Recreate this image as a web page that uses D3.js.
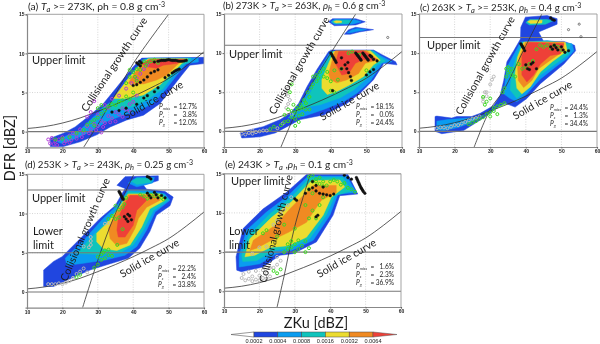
<!DOCTYPE html>
<html><head><meta charset="utf-8">
<script src="https://cdn.jsdelivr.net/npm/d3@7"></script>
<style>html,body{margin:0;padding:0;background:#fff}svg{display:block;filter:blur(.35px)}text{font-family:Lato,"Open Sans",sans-serif;fill:#1c1c1c}</style>
</head><body><svg id="c" width="600" height="344"></svg>
<script>
const levelLabels=["0.0002","0.0004","0.0008","0.0016","0.0032","0.0064"];
const levelColors=["#2046e0","#0a9cf0","#0fc4bc","#ecdc30","#f08a22","#ee4038"];
const xTicks=[10,20,30,40,50,60];
const yTicks=[0,5,10,15];
const iceCurve=[[10,.4],[15,.65],[20,1.1],[25,1.75],[30,2.6],[35,3.5],[40,4.5],[45,5.6],[50,6.8],[55,8.4],[60,10.2]];

// contour polygons [ZKu, DFR] per panel
const contoursA=[
[[16.6,-1.9],[16.6,-.85],[20.3,-.2],[23.6,.6],[27.8,2.1],[31.6,3.6],[35.4,5.7],[40,8.3],[42.4,9.4],[60,9.5],[60,8.7],[56,8.5],[53.7,7.2],[50.4,5.3],[47.6,3.6],[42.9,2.1],[38.2,1.5],[33.5,.6],[29.7,-.4],[25,-1.3],[20.3,-1.9]],
[[18.5,-1.3],[20.8,-.6],[25,.2],[28.8,1.9],[33.5,3.6],[37.7,6.2],[41.9,8.7],[43.3,9.3],[58.4,9.4],[58.4,8.9],[55,8.7],[52.3,7.2],[49,5.3],[45.6,3.6],[41.9,2.8],[37.2,2.1],[32.5,1.3],[28.8,.2],[24,-.85],[19.9,-1.5]],
[[30.6,2.8],[34.4,4],[38.2,6.6],[42.4,8.9],[44.3,9.4],[56.4,9.4],[56,8.9],[53.7,8.5],[51.3,7.2],[48.5,5.5],[43.8,4],[40,3.2],[35.4,2.8]],
[[34.4,4.25],[38.6,6.8],[42.4,8.7],[44.3,9.3],[55.5,9.3],[53.7,8.7],[50.8,7.4],[47.6,6],[42.9,4.7],[38.2,4.25]],
[[38.6,6.2],[40,7.2],[42.4,8.7],[44.7,9.3],[54.6,9.3],[52.3,8.5],[49.4,7.2],[46.6,6.6],[42.9,6.1]],
[[42.4,8.7],[44.7,9.2],[54.1,9.2],[52.3,8.7],[48.5,8.5],[46.6,8.1],[43.8,8.3]]];
const contoursB=[
[[15,-.85],[14.5,-.2],[16.4,.1],[21,.6],[25.8,1.5],[28.6,2.3],[31,3.6],[33.3,5.7],[36.1,7.9],[39.4,10.2],[40.3,10.4],[52,10.4],[54.4,9.8],[58.2,8.9],[58.6,8.5],[54.9,8.7],[52,6.6],[48.3,4.9],[44.6,3.6],[38,2.1],[31.4,1.5],[27.7,.6],[24.4,-.2],[20.1,-.7]],
[[28,1.7],[31,3.2],[33.8,5.3],[36.6,7.7],[39.9,10.2],[52,10.3],[53.9,9.7],[57.2,8.9],[54.4,8.7],[51.1,6.4],[47.4,4.9],[43.6,3.8],[38,2.8],[32.3,1.9]],
[[31.4,3],[34.2,4.9],[37,7.4],[40.3,10.2],[51.6,10.3],[53.9,9.5],[55.4,9],[53,8.5],[50.2,6.8],[46.4,5.3],[42.7,4.3],[37,3.4]],
[[37.5,5.5],[37.5,6.6],[39.4,8.7],[40.8,10.2],[51.1,10.3],[53.9,9.1],[52,8.5],[49.2,7],[45.5,6],[41.7,5.1],[39,4.7]],
[[39.9,6.6],[39.4,7.4],[40.8,9.8],[41.3,10.3],[50.2,10.3],[53,9.1],[49.7,8.7],[47.8,7.4],[44.6,6.6],[41.7,6.2]],
[[41.3,8.7],[42.2,10.2],[49.2,10.3],[53,9.2],[51,9.1],[49.2,9.2],[46.9,8.7],[45,7.4],[43.1,7.2]]];
const blobsB=[
[0,[[39.4,14],[40.5,14.4],[47,14.4],[49.7,14],[47,13.6],[41,13.5]]],
[1,[[40,14],[41,14.3],[46.5,14.3],[48.5,14],[46,13.7],[41,13.7]]],
[2,[[40.3,14],[41,14.2],[45,14.2],[46,14],[44.5,13.8],[41,13.8]]],
[3,[[40.8,14],[41.5,14.15],[43,14.1],[43,13.9],[41.5,13.85]]],
[0,[[43.8,12.4],[45,13],[47,13.3],[52,13],[48,12.7],[45.5,12.4]]],
[1,[[44.6,12.6],[46,13],[47.5,13.15],[50,13],[47.5,12.8],[45.5,12.6]]]];
const contoursC=[
[[14.5,1.9],[14.5,0],[16.4,-.3],[22.5,.1],[28.1,1.7],[32.3,3.1],[34.2,3.6],[37,3.1],[40.3,4.2],[44.1,6.1],[50.7,8.6],[54,10.3],[53.7,11],[50.7,11.5],[45,11.5],[43.6,12.7],[48.8,13.7],[48.8,14.4],[46,14.8],[39.9,14.6],[38.6,13.3],[38.5,11.8],[36.6,10.3],[34.7,8.9],[33.8,6.5],[32.8,4.6],[31,3.3],[27.2,2.3],[24.8,1.9],[20.6,1.9],[19.2,1.7],[15,1.95]],
[[34.7,8.2],[33.8,4.8],[35.6,4.2],[37.5,3.8],[39.9,4.6],[44.1,6.7],[48.8,8.4],[51.6,9.3],[53.5,10.3],[53,11.2],[46,11.6],[38.5,11.4],[37,10.1]],
[[36.1,7.8],[35.6,5.3],[37.5,4.2],[40.3,5.3],[44.1,7.2],[48.3,8.6],[52.1,9.9],[52.5,11.2],[46,11.5],[38.9,11.4],[37.5,9.7]],
[[37,7.4],[37.5,5.5],[38.9,4.8],[41.3,5.7],[44.1,7.6],[47.4,8.9],[51.6,10.3],[51.1,11.4],[39.4,11.4],[37.7,9.5]],
[[37.7,8.2],[37.9,6.5],[39.4,5.6],[41.7,6.5],[43.6,8],[46.9,9.1],[50.7,10.3],[50.7,11.4],[39.9,11.4],[38.2,9.5]],
[[38.9,8.2],[38.9,7.2],[40.3,6.3],[42.2,7.2],[44.1,8.6],[46.9,9.7],[49.7,9.9],[50.7,11.2],[40.8,11.4],[38.9,9.7]]];
const blobsC=[
[2,[[40,13.9],[41,14.3],[46,14.3],[47.5,14.1],[45.5,13.7],[41,13.6]]],
[3,[[40.5,14],[41.3,14.2],[44.6,14.2],[44.5,13.85],[41.3,13.8]]],
[1,[[15,1.3],[15,.2],[17,.1],[21,.5],[24,1],[27,1.8],[24,1.7],[21,1.6],[18,1.5]]]];
const contoursD=[
[[14.7,.7],[14.7,2.8],[17.5,3.9],[19.9,4.5],[25,6.8],[30.7,9.4],[34.9,11],[37.7,13.2],[35.4,13.6],[37.7,14.7],[47.1,14.8],[47.1,14.2],[42.9,13.6],[43.8,13.1],[49,12.8],[51.3,12.1],[50.4,11],[46.6,9.8],[44.7,7.7],[41.9,5.6],[38.6,4.3],[33.5,3.6],[27.8,2.8],[22.2,1.7],[17.5,.7]],
[[20.8,4.3],[26,6.6],[31.6,9.4],[35.4,11],[38.6,13],[43.8,13],[49,12.5],[50.4,11.7],[46.2,10.2],[43.8,7.9],[41,5.8],[37.7,4.7],[32.5,4.1],[25,3.6],[21.3,3.4]],
[[24.1,4.9],[27.8,6.8],[33,9.2],[35.8,10.8],[38.6,12.8],[48.5,12.5],[49.9,11.7],[45.7,10.4],[42.9,7.9],[40,6],[36.3,5],[29.7,4.8]],
[[29.7,7.5],[32.5,8.7],[35.8,10.6],[38.6,12.5],[47.6,12.5],[49,11.7],[44.7,10.6],[42.4,8.3],[39.1,6],[35.4,5.3],[31.6,5.5],[29.7,6.4]],
[[33,8.1],[35.4,10.2],[38.6,12.4],[46.6,12.4],[47.6,11.7],[43.8,10.8],[41.5,9.4],[40.5,8.1],[38.2,6.2],[35.4,5.9],[33.5,6.8]],
[[35.4,7.9],[35.8,9.4],[37.2,11],[39.1,12.3],[42.8,12.3],[43.8,11.7],[41,10.4],[40,8.5],[37.7,7],[35.8,7]]];
const blobsD=[
[2,[[39.5,14.1],[41,14.5],[45.5,14.5],[45,14],[41,13.7]]],
[1,[[38.6,13.9],[41,14.6],[46,14.6],[45.5,13.9],[41,13.4]]]];
const contoursE=[
[[13.6,2.7],[13.4,4.4],[15.4,8],[21,10.5],[27.6,12.6],[33.3,14.9],[45,14.9],[47.8,12.4],[42.7,12.2],[40.8,9.7],[36.1,6.3],[29.5,4.8],[25.8,4.6],[21,3.1],[14.9,2.5]],
[[14.3,3.1],[14.3,4.6],[16.4,7.8],[22,10.1],[28.1,12.2],[33.8,14.7],[44.6,14.7],[47.4,12.6],[42.2,12.4],[39.9,9.7],[35.2,6.5],[29.1,5.2],[24.8,4.8],[20.1,3.5]],
[[15.3,3.8],[15,4.6],[16.9,7.1],[23,9.9],[28.6,11.8],[34.2,14.5],[43.6,14.5],[46,12.8],[41.3,12.2],[38.9,9.7],[34.2,6.7],[28.6,5.5],[23.9,5.2],[19.2,3.9]],
[[15.9,4.4],[17.3,6.7],[23.4,9.4],[29,11.4],[34.7,14.1],[42.7,14.2],[44.1,13.3],[40.3,12],[38,9.7],[33.3,6.9],[28.1,5.8],[23,5.6],[18.7,4.6]],
[[17.3,5.2],[18.3,6.5],[24.4,8.4],[29,10.7],[35.2,13.5],[41.7,13.5],[41.7,12.6],[37.5,11.6],[35.2,10.1],[33.3,8.8],[28.1,7.5],[23.4,6.5],[19.2,5.5]]];

// observed points
const purpleA=[[16,-1],[16.5,-1.5],[17,-.8],[17.5,-1.6],[18,-1.2],[18.5,-1.7],[19,-1],[20,-.7],[20.5,-1.5],[21,-1.2],[22,-.5],[22.5,-1.1],[23,-.2],[24,-.5],[25,.3],[25.5,-.7],[26,-.2],[27,.7],[27.5,-.2],[28,.3],[29,1],[29.5,.2],[30,.7],[31,1.4],[31.5,.6],[32,1.1],[33,2],[33.5,1.2],[34,1.7],[35,2.5],[36,2.2],[37,3],[38,2.8],[39,3.5],[40,3.8],[29,3.9],[28,2.5],[32,3.4],[34,4.2],[36,4.6],[38,5.5],[39.5,6.2],[41,4.6],[41,6.8],[42,7.4],[43,8],[44,8.5],[27,1.9],[30,2.2],[33,3],[31,-.1],[35,1.3],[24,-.9],[22,-1.4],[37,1.9],[39,2.6]];
const greenA=[[18,-1],[20,-.9],[22,-.7],[24,-.2],[26,.2],[27,.9],[28,1.2],[29,1.5],[30,1.8],[31,2.3],[32,2.7],[33,3.2],[34,3.5],[35,3.4],[36,3.8],[37,4],[38,4.5],[39,4.2],[40,5],[38,6.2],[39,7],[40,7.6],[41,8],[42,8.6],[43,9],[44,8.8],[45,9],[46,9.2],[47,8.8],[41,6.5],[29,.8],[30,3],[31,3.4],[39,7.9],[40.5,7],[42,7.9],[43.5,8.4]];
const blackA=[[41,8.8],[41.5,8.6],[41.8,9],[42,8.4],[42.3,8.8],[46,8.9],[47,9],[47.5,9.05],[48,9.1],[48.5,9.1],[49,9.1],[49.5,9.15],[50,9.2],[50.5,9.15],[51,9.1],[51.5,9.1],[52,9.1],[52.5,9.05],[53,9],[53.5,9],[54,9],[54.5,9.05],[55,9.1],[45,7.5],[46,7.7],[47,7.9],[44,7],[43,6.6],[42,6.3],[41,6],[40,5.9],[49,6.9],[50,7.2],[51,7.5],[51.5,7.65],[52,7.8],[52.5,7.9],[53,8],[46,5.1],[47,5.6],[44,4.6],[43,4.3],[41,3.5],[38,3],[36,2.7],[34,2.5]];
const greenB=[[23,.3],[24,.6],[26,.8],[27,1.2],[27,2.1],[28,2.8],[28,1.3],[29,1.8],[29,2.6],[29.5,3.4],[30,.7],[30,1.6],[30,2.4],[30.5,3],[31,1.2],[31,2],[31,2.8],[31.5,3.4],[32,2.2],[32,3],[32.5,4],[33,2.8],[33,3.6],[33.5,5],[34,4.4],[34.5,5.6],[35,6],[35,7],[36,6.4],[36,7.2],[36.5,6.8],[37,7.6],[38,7],[38,8],[39,6.8],[39,7.6],[40,6.4],[40,5.2],[41,5],[41,7.8],[42,6.6],[43,8],[28.5,5],[29,6],[34,2.8],[45,10],[46,10.2],[48,9.8],[50,7.8]];
const grayB=[[15,-.3],[16,-.4],[17,-.2],[18,-.3],[19,-.1],[20,0],[21,.1],[22,.1],[18,.1],[25,.4],[26.5,1],[28,3.5],[28,4.5],[27.5,3],[27.5,5],[28,5.5],[28.5,4],[29,2.2]];
const blackB=[[40,10],[40.3,9.8],[40.5,9.6],[40.8,9.4],[41,9.2],[41.3,9],[41.5,8.8],[47,10],[47.3,9.85],[47.5,9.7],[47.8,9.55],[48,9.4],[48.3,9.25],[48.5,9.1],[49,10],[49.3,9.85],[49.5,9.7],[49.8,9.55],[50,9.4],[50.3,9.25],[50.5,9.1],[51,9.7],[51.3,9.6],[51.5,9.5],[52,9.2],[53,9],[43,8],[44,8.5],[44.5,8],[45,7.5],[45.5,7],[45.8,6.5],[44.8,8.8],[50,7.2],[51,7.6],[52,7.9],[40.5,5.2],[43,9.4]];
const openB=[[56,12]];
const greenC=[[24,.9],[25,1.1],[26,1.3],[27,1.6],[28,1.8],[29,2.2],[30,2.4],[30,1.9],[31,2.6],[31,3],[32,3.2],[32,2.2],[33,3.4],[34,3.6],[33.5,5],[34,5.5],[34.5,7],[35,7.5],[35,8.2],[35.5,7.7],[36,8],[34.5,8],[36,7.2],[37,7],[38,8.6],[39,8],[40,8.2],[41,8.6],[42,9],[43,10.5],[44,11],[45,10.8],[46,11],[47,10.6],[48,11],[49,10.8],[50,10.4],[30,4.2],[28,4.4],[29,3.8],[28.5,3.4]];
const grayC=[[15,.4],[16,.5],[17,.5],[18,.4],[19,.6],[20,.8],[21,.8],[22,1],[23,1.2],[24,1.4],[25,1.6],[26,1.7],[27,1.9],[28,3.8],[28,4.2],[29,4.5],[29,5],[30,6],[31,7],[30.5,6.6],[28.5,5]];
const blackC=[[38.6,11.2],[38.8,11.05],[39,10.9],[39.2,10.75],[39.4,10.6],[39.7,10.3],[40,8.5],[40.5,8],[41,7.9],[41.5,8.6],[42,8.8],[43,8],[47,10.8],[47.5,10.5],[48,11],[48.5,10.7],[49,10.4],[50,10.8],[50.5,10.4],[51,10.1],[52,10.3],[47,14.5],[47.5,14.3],[48,14.2]];
const openC=[[52,13],[55,13.7],[55.5,12.1]];
const greenD=[[24,1.9],[25,2.2],[29,3.1],[30,3.5],[30,4.5],[31,4.8],[31.5,5],[32,4.3],[32,5.3],[33,4.7],[33,5.4],[34,4.6],[31,4.1],[35.5,6],[37,8],[33,9.3],[34,9.7],[35,9.3],[36,9.5],[36,10.5],[37,10.8],[37.5,11.2],[38,12],[42,12.4],[43,12.2],[44,11.9],[45,12.4],[46,12.2],[47,12.2],[48,12],[48.5,11.8],[35,11]];
const grayD=[[16,1],[17,1],[18,1],[19,1.1],[20,1],[21,1.2],[22,1.4],[23,1.8],[24,2.3],[25,2.6],[26,3],[27,2.5],[28,6],[28,6.5],[27.5,5.7],[26,5.8],[28,7],[33,8.8],[32,8.7]];
const blackD=[[36,12.8],[36.2,12.65],[36.4,12.5],[36.6,12.3],[36.8,12.1],[37,11.95],[37.2,11.8],[37.5,9.6],[38,9.3],[38.5,9],[39,9.7],[39.5,9.2],[38.5,9.9],[44,12.6],[44.5,12.3],[45,12],[46,12.7],[46.5,12.4],[47,12],[48,12.3],[49,12],[44,14.7],[44.5,14.6],[45,14.4]];
const greenE=[[24,2.6],[25,2.3],[26,2.8],[27,5],[28,5.4],[28,6],[29,5.6],[29,6.4],[30,5],[30,6],[31,5.4],[31,6.5],[32,5.8],[33,5],[33,6.4],[34,5.5],[25,7],[22,7.8],[21,7.4],[27,8.5],[34,9.3],[36,9.3],[35,10.3],[37,11],[38,12],[33,11],[35,12.5],[34,13],[35,14],[36,14.3],[37,14.5],[38,14],[39,13.5],[40,14],[41,14.2],[42,14],[43,13.6],[44,13.8],[45,13.2],[46,13],[47,12.7],[30,8],[34,14.6],[35,14.8],[36,14],[37,13.7],[38,13.4]];
const grayE=[[15,1.7],[16,1.4],[17,1.6],[18,1.9],[19,1.5],[20,2],[21,1.7],[22,2.3],[23,1.9],[24,3],[25,3.4],[26,3.9],[17,2.5],[19,2.6],[21,2.7],[23,3],[25,4.4],[18,4.8],[20,5.6],[22,5.7],[26,10],[27,10.5],[25,9],[24,8.5],[28,11],[29,12],[15.5,2.2],[18,1.3],[20,1.4],[22,1.6]];
const blackE=[[30,11.8],[30.5,11.6],[33,12.5],[34,13],[35,13.2],[36,12.8],[37,12.5],[38,12.4],[39,12.3],[40,12.2],[41,12.4],[35,14],[36,13.5],[38,13.3],[36,9.5],[36.5,9.7],[44,14.8],[45,14.5],[46,14.3],[47.4,14.5],[47.6,14.3],[47.8,14.1],[48,13.9],[48.2,13.7],[48.4,13.5],[48.6,13.3],[48.8,13.15],[49,13],[49.2,12.85],[49.4,12.7],[49.8,12.5]];

const panels=[
{n:"a",x0:27,x1:204,t:14.3,b:147.3,upper:10,lower:null,coll:[[26,-2],[30,.9],[34,4],[40,8.7],[50,15]],cont:contoursA,blobs:[],pts:[[purpleA,"#b03cd8"],[greenA,"#3cd820"],[blackA,"#111"]],
 title:["(a) ","T","a"," >= 273K, ρh = 0.8 g cm","-3"],tx:28,ty:10,tf:10.3,uLab:[32,64],lLab:null,cLab:[115,65,-56.5],sLab:[154,101,-30],stats:["12.7%","3.8%","12.0%"],sub:"r",statX:159,statY:109},
{n:"b",x0:224,x1:402,t:14,b:147,upper:11,lower:null,coll:[[26,-2],[30,2.2],[33,4.8],[40,10],[47,15]],cont:contoursB,blobs:blobsB,pts:[[grayB,"#b8b8b8"],[greenB,"#3cd820"],[blackB,"#111"]],open:openB,
 title:["(b) 273K > ","T","a"," >= 263K, ","ρ","h"," = 0.6 g cm","-3"],tx:223,ty:9,tf:9.7,uLab:[229,58],lLab:null,cLab:[300,66,-60],sLab:[350,102,-30],stats:["18.1%","0.0%","24.4%"],sub:"s",statX:356,statY:108.5},
{n:"c",x0:419,x1:597,t:14,b:147,upper:12,lower:null,coll:[[25.5,-2],[30,2.8],[33.7,5.2],[39.3,10.3],[44.5,15]],cont:contoursC,blobs:blobsC,pts:[[grayC,"#b8b8b8"],[greenC,"#3cd820"],[blackC,"#111"]],open:openC,
 title:["(c) 263K > ","T","a"," >= 253K, ","ρ","h"," = 0.4 g cm","-3"],tx:420,ty:10.5,tf:9.7,uLab:[427,49],lLab:null,cLab:[486,66,-61],sLab:[543,101,-30],stats:["24.4%","1.3%","34.4%"],sub:"s",statX:550,statY:109.5},
{n:"d",x0:27,x1:204,t:174.3,b:307.7,upper:13,lower:5,coll:[[25.7,-2],[30.2,4.3],[34.4,9.4],[40.2,15]],cont:contoursD,blobs:blobsD,pts:[[grayD,"#b8b8b8"],[greenD,"#3cd820"],[blackD,"#111"]],
 title:["(d) 253K > ","T","a"," >= 243K, ","ρ","h"," = 0.25 g cm","-3"],tx:25,ty:168,tf:9.7,uLab:[32,202],lLab:[33,235],cLab:[86,230,-67],sLab:[150,259,-30],stats:["22.2%","2.4%","33.8%"],sub:"s",statX:158,statY:270.5},
{n:"e",x0:224,x1:401,t:173.7,b:307,upper:15,lower:5,coll:[[25,-2],[27,2],[30,8.3],[34.4,15]],cont:contoursE,blobs:[],pts:[[grayE,"#b8b8b8"],[greenE,"#3cd820"],[blackE,"#111"]],
 title:["(e) 243K > ","T","a"," ,","ρ","h"," = 0.1 g cm","-3"],tx:225,ty:168,tf:10.2,uLab:[231,185],lLab:[229,235],cLab:[277,229,-76],sLab:[347,259,-30],stats:["1.6%","2.3%","36.9%"],sub:"s",statX:356,statY:269}];

const svg=d3.select("#c");
panels.forEach(p=>{
  const x=d3.scaleLinear().domain([10,60]).range([p.x0,p.x1]);
  const y=d3.scaleLinear().domain([-2,15]).range([p.b,p.t]);
  const g=svg.append("g");
  const cid="clip-"+p.n;
  g.append("clipPath").attr("id",cid).append("rect").attr("x",p.x0).attr("y",p.t).attr("width",p.x1-p.x0).attr("height",p.b-p.t);
  const plot=g.append("g").attr("clip-path",`url(#${cid})`);
  xTicks.slice(1,5).forEach(v=>plot.append("line").attr("x1",x(v)).attr("x2",x(v)).attr("y1",p.t).attr("y2",p.b).attr("stroke","#bbb").attr("stroke-width",.6).attr("stroke-dasharray","1 1.5"));
  [5,10].forEach(v=>plot.append("line").attr("x1",p.x0).attr("x2",p.x1).attr("y1",y(v)).attr("y2",y(v)).attr("stroke","#bbb").attr("stroke-width",.6).attr("stroke-dasharray","1 1.5"));
  const area=d3.line().x(d=>x(d[0])).y(d=>y(d[1])).curve(d3.curveLinearClosed);
  const shape=(lvl,pts)=>plot.append("path").attr("d",area(pts)).attr("fill",levelColors[lvl]).attr("stroke",levelColors[lvl]).attr("stroke-width",.5).attr("stroke-linejoin","round");
  p.cont.forEach((c,i)=>shape(i,c));
  p.blobs.slice().sort((a,b)=>a[0]-b[0]).forEach(b=>shape(b[0],b[1]));
  [0,p.upper,p.lower].filter(v=>v!==null).forEach(v=>plot.append("line").attr("x1",p.x0).attr("x2",p.x1).attr("y1",y(v)).attr("y2",y(v)).attr("stroke","#777").attr("stroke-width",1.1));
  const ln=d3.line().x(d=>x(d[0])).y(d=>y(d[1]));
  plot.append("path").attr("d",ln.curve(d3.curveMonotoneX)(iceCurve)).attr("fill","none").attr("stroke","#333").attr("stroke-width",.8);
  plot.append("path").attr("d",ln.curve(d3.curveCatmullRom)(p.coll)).attr("fill","none").attr("stroke","#333").attr("stroke-width",.8);
  p.pts.forEach(([arr,col])=>{
    const black=col==="#111";
    plot.append("g").selectAll("circle").data(arr).join("circle")
      .attr("cx",d=>x(d[0])).attr("cy",d=>y(d[1])).attr("r",black?1.35:1.5)
      .attr("fill",black?col:"none").attr("stroke",col).attr("stroke-width",black?.4:1);
  });
  if(p.open) plot.append("g").selectAll("circle").data(p.open).join("circle").attr("cx",d=>x(d[0])).attr("cy",d=>y(d[1])).attr("r",1.1).attr("fill","none").attr("stroke","#333").attr("stroke-width",.6);
  const ax=g.append("g").attr("transform",`translate(0,${p.b})`).call(d3.axisBottom(x).tickValues(xTicks).tickSize(1.5).tickPadding(1));
  const ay=g.append("g").attr("transform",`translate(${p.x0},0)`).call(d3.axisLeft(y).tickValues(yTicks).tickSize(1.5).tickPadding(1));
  [ax,ay].forEach(a=>{a.selectAll("text").style("font-size","5px").style("font-weight","700").style("font-family","Liberation Sans");a.selectAll("line").attr("stroke","#666");a.select(".domain").attr("stroke","#888").attr("stroke-width",1.2);});
  g.append("path").attr("d",`M${p.x0},${p.t}H${p.x1}V${p.b}`).attr("fill","none").attr("stroke","#999").attr("stroke-width",.9);
  const tt=g.append("text").attr("x",p.tx).attr("y",p.ty).style("font-size",p.tf+"px");
  let pending=0;
  p.title.forEach(s=>{
    const sp=tt.append("tspan").text(s);
    let dy=pending; pending=0;
    if(s==="T"||s==="ρ") sp.style("font-style","italic");
    if(s==="a"||s==="h"){sp.style("font-size","7.5px").style("font-style","italic");dy+=2;pending=-2;}
    if(s==="-3"){sp.style("font-size","7px");dy+=-3;}
    if(dy) sp.attr("dy",dy);
  });
  g.append("text").attr("x",p.uLab[0]).attr("y",p.uLab[1]).style("font-size","11px").text("Upper limit");
  if(p.lLab){
    g.append("text").attr("x",p.lLab[0]).attr("y",p.lLab[1]).style("font-size","11px").text("Lower");
    g.append("text").attr("x",p.lLab[0]).attr("y",p.lLab[1]+14).style("font-size","11px").text("limit");
  }
  g.append("text").attr("transform",`translate(${p.cLab[0]},${p.cLab[1]}) rotate(${p.cLab[2]})`).attr("text-anchor","middle").attr("dominant-baseline","middle").style("font-size","10.5px").text("Collisional growth curve");
  g.append("text").attr("transform",`translate(${p.sLab[0]},${p.sLab[1]}) rotate(${p.sLab[2]})`).attr("text-anchor","middle").attr("dominant-baseline","middle").style("font-size","10.5px").text("Solid ice curve");
  const names=["miss",p.sub,"g"];
  p.stats.forEach((s,i)=>{
    const yy=p.statY+i*8.2;
    const t=g.append("text").attr("x",p.statX).attr("y",yy).style("font-size","6.6px");
    t.append("tspan").style("font-style","italic").text("P");
    t.append("tspan").attr("dy",1).style("font-size","4px").style("font-style","italic").text(names[i]);
    g.append("text").attr("x",p.statX+14.5).attr("y",yy).style("font-size","6.6px").text("=");
    g.append("text").attr("x",p.statX+38).attr("y",yy).attr("text-anchor","end").style("font-size","6.6px").text(s);
  });
});
svg.append("text").attr("transform","translate(15,148) rotate(-90)").attr("text-anchor","middle").style("font-size","14.5px").text("DFR [dBZ]");
svg.append("text").attr("x",316).attr("y",328).attr("text-anchor","middle").style("font-size","14.5px").text("ZKu [dBZ]");
const cb=d3.scalePoint().domain(levelLabels).range([254,373]);
const cy0=332,cy1=337,cym=(cy0+cy1)/2;
svg.append("path").attr("d",`M231,${cym}L${cb(levelLabels[0])},${cy0}V${cy1}Z`).attr("fill","#fff").attr("stroke","#555").attr("stroke-width",.6);
levelLabels.slice(0,5).forEach((l,i)=>{
  svg.append("rect").attr("x",cb(l)).attr("y",cy0).attr("width",cb(levelLabels[i+1])-cb(l)).attr("height",cy1-cy0).attr("fill",levelColors[i]).attr("stroke","#444").attr("stroke-width",.5);
});
svg.append("path").attr("d",`M${cb(levelLabels[5])},${cy0}L397,${cym}L${cb(levelLabels[5])},${cy1}Z`).attr("fill",levelColors[5]).attr("stroke","#555").attr("stroke-width",.5);
svg.append("g").selectAll("text").data(levelLabels).join("text").attr("x",d=>cb(d)).attr("y",343).attr("text-anchor","middle").style("font-size","5.6px").style("font-family","Liberation Sans").text(d=>d);
</script></body></html>
